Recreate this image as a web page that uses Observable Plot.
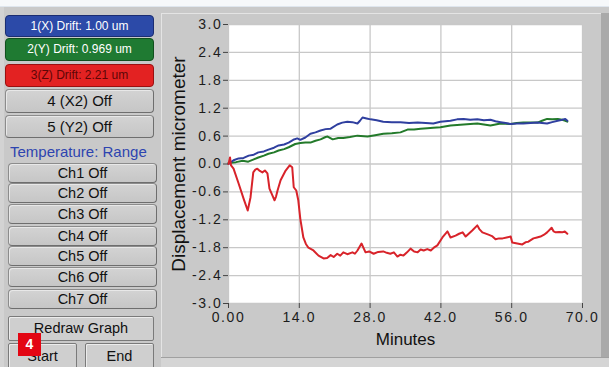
<!DOCTYPE html>
<html>
<head>
<meta charset="utf-8">
<script src="https://cdn.jsdelivr.net/npm/d3@7"></script>
<script src="https://cdn.jsdelivr.net/npm/@observablehq/plot@0.6"></script>
<style>
  html, body { margin: 0; padding: 0; }
  body { width: 609px; height: 367px; overflow: hidden; background: #c9c9c9; font-family: "Liberation Sans", Arial, sans-serif; }
  #wrap { position: relative; width: 609px; height: 367px; background: #c9c9c9; }
  #topstrip { position: absolute; left: 0; top: 0; width: 609px; height: 6px; background: #f6f8fa; border-bottom: 1px solid #dfe6ee; }
  #leftedge { position: absolute; left: 0; top: 7px; width: 4px; height: 360px; background: #d3d3d3; }
  .btn { position: absolute; box-sizing: border-box; border-radius: 4px; text-align: center; color: #111; white-space: nowrap; }
  .gray { background: linear-gradient(#d3d3d3, #c6c6c6); border: 1px solid #8c8c8c; border-right-color: #6e6e6e; border-bottom-color: #6e6e6e; box-shadow: inset 1px 1px 0 #e8e8e8; }
  .flat { background: #cfcfcf; border: 1px solid #7a7a7a; border-radius: 2px; box-shadow: inset 1px 1px 0 #ececec; }
  #panel { position: absolute; left: 161px; top: 13px; width: 441px; height: 344px; background: #c9c9c9; border-left: 1px solid #e4e4e4; border-top: 1px solid #e4e4e4; box-sizing: border-box; }
  #rightband { position: absolute; left: 601px; top: 13px; width: 8px; height: 345px; background: #a9a9a9; }
  #bottomband { position: absolute; left: 161px; top: 357px; width: 448px; height: 10px; background: #d5d5d5; border-top: 1px solid #a0a0a0; box-sizing: border-box; }
  #chart { position: absolute; left: 162px; top: 14px; }
  #chart svg [aria-label="x-axis tick label"] text, #chart svg [aria-label="y-axis tick label"] text { letter-spacing: 1.6px; }
  #badge { position: absolute; left: 18px; top: 333px; width: 23px; height: 23px; background: #e30613; color: #fff; font-weight: bold; font-size: 14px; line-height: 23px; text-align: center; }
</style>
</head>
<body>
<div id="wrap">
  <div id="topstrip"></div>
  <div id="leftedge"></div>
  <div id="buttons"></div>
  <div id="panel"></div>
  <div id="rightband"></div>
  <div id="bottomband"></div>
  <div id="chart"></div>
</div>
<script>
// ---- data ----
const redMin = [0.0,0.3,0.5,1.0,2.0,3.0,3.8,4.35,4.9,5.3,5.7,6.2,6.7,7.2,7.7,8.1,8.7,9.1,9.4,9.7,10.3,11.3,12.1,12.6,12.9,13.4,13.8,14.2,14.8,15.3,15.8,16.8,17.8,18.8,19.5,20.2,20.8,21.5,22.1,22.7,23.5,24.5,25.0,25.5,26.3,27.1,27.8,28.7,29.6,30.6,31.3,32.0,32.7,33.4,34.0,34.6,35.3,36.0,36.7,37.4,38.0,38.6,39.3,40.0,40.6,41.3,42.3,43.3,43.9,44.9,45.6,46.3,46.9,47.5,48.2,49.2,49.6,50.2,51.4,52.1,52.8,53.5,54.2,55.0,55.8,56.1,57.1,58.1,58.8,59.3,60.3,61.0,61.7,62.4,63.0,63.9,64.3,64.7,65.4,66.0,66.5,67.0];
const redVal = [0.0,0.14,-0.03,-0.1,-0.42,-0.75,-1.0,-0.72,-0.18,-0.12,-0.1,-0.15,-0.18,-0.14,-0.2,-0.53,-0.68,-0.78,-0.7,-0.57,-0.35,-0.14,-0.03,-0.07,-0.5,-0.57,-0.78,-1.18,-1.58,-1.72,-1.8,-1.86,-1.97,-2.03,-2.02,-1.96,-2.0,-1.93,-1.97,-1.9,-1.94,-1.9,-1.93,-1.86,-1.71,-1.9,-1.88,-1.93,-1.89,-1.88,-1.91,-1.93,-1.9,-1.99,-1.95,-1.97,-1.9,-1.82,-1.88,-1.9,-1.84,-1.86,-1.83,-1.86,-1.8,-1.75,-1.58,-1.45,-1.58,-1.54,-1.5,-1.47,-1.56,-1.5,-1.43,-1.32,-1.4,-1.47,-1.52,-1.55,-1.62,-1.6,-1.6,-1.58,-1.56,-1.69,-1.71,-1.73,-1.68,-1.67,-1.6,-1.58,-1.56,-1.52,-1.47,-1.37,-1.45,-1.47,-1.46,-1.47,-1.45,-1.5];
const blueMin = [0,1.0,2.0,3.0,4.0,5.0,5.9,7.0,7.9,9.0,9.9,11.0,11.9,12.8,13.6,14.2,15.2,16.2,17.2,18.2,19.2,20.2,21.5,22.5,23.5,24.5,25.5,26.0,26.5,27.3,28.1,29.3,30.6,32.3,34.0,35.7,37.4,39.0,40.5,41.9,43.9,45.2,46.5,47.8,49.2,50.5,51.8,52.8,53.8,54.8,55.8,57.0,58.3,59.7,61.1,62.0,63.0,64.0,65.1,66.0,66.6,67.0];
const blueVal = [0.0,0.08,0.12,0.13,0.18,0.2,0.25,0.27,0.31,0.35,0.4,0.42,0.46,0.52,0.55,0.52,0.57,0.65,0.68,0.72,0.75,0.76,0.85,0.89,0.91,0.9,0.87,0.93,1.0,0.98,0.96,0.94,0.91,0.9,0.9,0.88,0.89,0.88,0.87,0.91,0.93,0.96,0.97,0.95,0.96,0.94,0.95,0.92,0.9,0.88,0.86,0.87,0.87,0.88,0.89,0.88,0.87,0.9,0.93,0.95,0.97,0.93];
const greenMin = [0,1.5,2.8,3.9,5.0,5.9,7.0,7.9,9.0,9.9,11.0,11.9,13.2,14.2,15.2,16.2,17.2,18.2,19.2,19.6,20.6,21.7,22.7,24.0,25.5,27.5,29.0,30.6,32.3,34.0,35.4,36.7,38.0,39.3,40.5,41.9,43.9,45.2,46.5,47.8,49.2,50.5,51.8,52.8,53.8,55.8,57.0,58.3,59.7,61.1,62.0,63.0,64.0,65.1,66.0,66.6,67.0];
const greenVal = [0.02,0.04,0.07,0.05,0.1,0.14,0.18,0.22,0.25,0.29,0.32,0.36,0.43,0.45,0.46,0.46,0.5,0.53,0.58,0.59,0.53,0.56,0.56,0.58,0.61,0.59,0.62,0.65,0.66,0.68,0.74,0.74,0.76,0.77,0.78,0.79,0.83,0.84,0.85,0.86,0.87,0.85,0.83,0.85,0.87,0.86,0.88,0.89,0.89,0.89,0.93,0.97,0.96,0.97,0.95,0.93,0.91];
const xTicks = [0, 14, 28, 42, 56, 70];
const yTicks = [3.0, 2.4, 1.8, 1.2, 0.6, 0.0, -0.6, -1.2, -1.8, -2.4, -3.0];
const channelLabels = ["1(X) Drift: 1.00 um", "2(Y) Drift: 0.969 um", "3(Z) Drift: 2.21 um", "4 (X2) Off", "5 (Y2) Off"];
const tempLabels = ["Ch1 Off", "Ch2 Off", "Ch3 Off", "Ch4 Off", "Ch5 Off", "Ch6 Off", "Ch7 Off"];
const xLabel = "Minutes";
const yLabel = "Displacement micrometer";

// ---- left control panel ----
const btnHost = document.getElementById("buttons");
function addBtn(text, cls, left, top, w, h, fs, extra) {
  const d = document.createElement("div");
  d.className = "btn " + cls;
  d.textContent = text;
  d.style.left = left + "px"; d.style.top = top + "px";
  d.style.width = w + "px"; d.style.height = h + "px";
  d.style.fontSize = fs + "px"; d.style.lineHeight = (h - 2) + "px";
  if (extra) Object.assign(d.style, extra);
  btnHost.appendChild(d);
}
const chanTops = [15, 38, 64, 89, 115];
const chanH = [22, 23, 23, 24, 23];
const chanStyles = [
  {background: "#2c4aa8", border: "1px solid #1b2d72", color: "#fff"},
  {background: "#1f7a32", border: "1px solid #11501e", color: "#fff"},
  {background: "#e32222", border: "1px solid #9a1010", color: "#5e0606"},
  null, null
];
channelLabels.forEach((t, i) => {
  addBtn(t, i < 3 ? "" : "gray", 5, chanTops[i], 149, chanH[i], i < 3 ? 12 : 15, chanStyles[i]);
});
const tmp = document.createElement("div");
tmp.textContent = "Temperature: Range";
Object.assign(tmp.style, {position: "absolute", left: "10px", top: "143px", fontSize: "15px", color: "#2d44b0", whiteSpace: "nowrap"});
btnHost.appendChild(tmp);
const tempTops = [163, 183, 204, 226, 246, 267, 289];
tempLabels.forEach((t, i) => addBtn(t, "gray", 8, tempTops[i], 149, 20, 14.5));
addBtn("Redraw Graph", "flat", 8, 316, 146, 25, 14.5);
addBtn("Start", "flat", 8, 343, 69, 26, 14.5);
addBtn("End", "flat", 85, 343, 69, 26, 14.5);
const badge = document.createElement("div");
badge.id = "badge"; badge.textContent = "4";
btnHost.appendChild(badge);

// ---- chart ----
const red = redMin.map((m, i) => ({m, v: redVal[i]}));
const blue = blueMin.map((m, i) => ({m, v: blueVal[i]}));
const green = greenMin.map((m, i) => ({m, v: greenVal[i]}));
const fmtX = d => d === 0 ? "0.00" : d.toFixed(1);
const fmtY = d => d.toFixed(1);

const chart = Plot.plot({
  width: 440,
  height: 343,
  marginLeft: 66,
  marginRight: 20,
  marginTop: 10,
  marginBottom: 54,
  style: {fontFamily: "'Liberation Sans', Arial, sans-serif", fontSize: "14px", color: "#1c1c1c", background: "transparent", overflow: "visible"},
  x: {domain: [0, 70]},
  y: {domain: [-3, 3]},
  marks: [
    Plot.frame({fill: "white", stroke: null}),
    Plot.gridX(xTicks, {stroke: "#c8c8c8", strokeOpacity: 1, strokeWidth: 1.3}),
    Plot.gridY(yTicks, {stroke: "#c8c8c8", strokeOpacity: 1, strokeWidth: 1.3}),
    Plot.line(green, {x: "m", y: "v", stroke: "#237a2a", strokeWidth: 2}),
    Plot.line(blue, {x: "m", y: "v", stroke: "#2f3f9f", strokeWidth: 2}),
    Plot.line(red, {x: "m", y: "v", stroke: "#d8232a", strokeWidth: 2}),
    Plot.axisX({ticks: xTicks, tickFormat: fmtX, tickSize: 5, tickPadding: 4, label: null, stroke: "#444"}),
    Plot.axisY({ticks: yTicks, tickFormat: fmtY, tickSize: 5, tickPadding: 1, label: null, stroke: "#444"}),
    Plot.text([xLabel], {frameAnchor: "bottom", dy: 41, fontSize: 17, fill: "#111"}),
    Plot.text([yLabel], {frameAnchor: "left", dx: -50, rotate: -90, textAnchor: "middle", fontSize: 19, fill: "#111"})
  ]
});
document.getElementById("chart").appendChild(chart);
</script>
</body>
</html>
